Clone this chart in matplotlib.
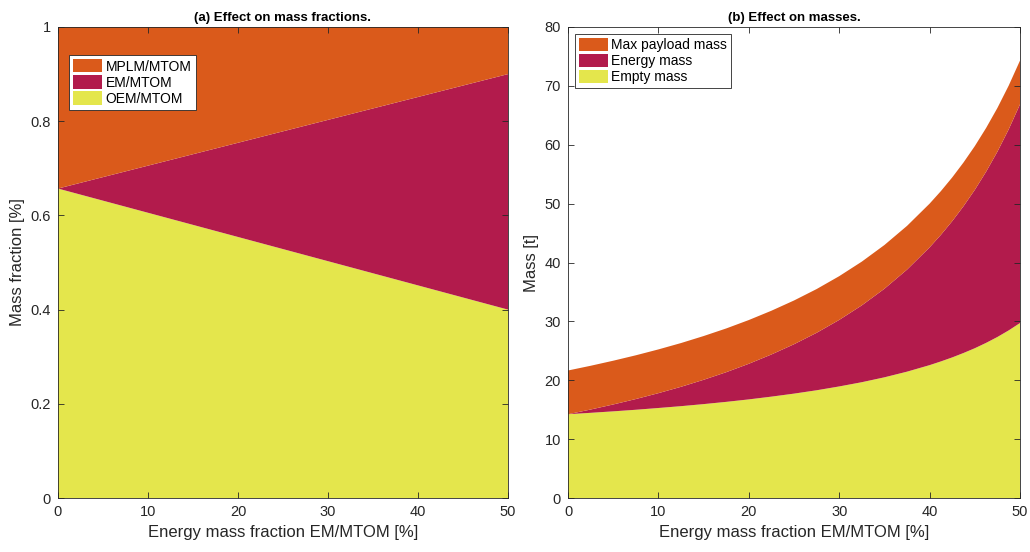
import matplotlib
matplotlib.use("Agg")
import matplotlib.pyplot as plt
from matplotlib.patches import Patch

plt.rcParams['font.family'] = ['Liberation Sans', 'DejaVu Sans']

# (a) mass fractions
em_frac_x = [0, 50]
oem_frac = [0.657, 0.40]
em_frac = [0.0, 0.50]
mplm_frac = [0.343, 0.10]

# (b) masses [t]
em_x = [0, 2.5, 5, 7.5, 10, 12.5, 15, 17.5, 20, 22.5, 25, 27.5, 30, 32.5, 35,
        37.5, 40, 41.25, 42.5, 43.75, 45, 46.25, 47.5, 48.75, 50]
empty_mass = [14.23, 14.47, 14.72, 14.99, 15.29, 15.60, 15.95, 16.33, 16.75, 17.22,
              17.73, 18.30, 18.95, 19.67, 20.50, 21.46, 22.57, 23.20, 23.88, 24.63,
              25.44, 26.35, 27.35, 28.47, 29.72]
energy_mass = [0.0, 0.56, 1.17, 1.82, 2.52, 3.29, 4.13, 5.04, 6.05, 7.16, 8.39, 9.76,
               11.30, 13.05, 15.04, 17.33, 20.00, 21.50, 23.14, 24.93, 26.90, 29.07,
               31.47, 34.15, 37.15]
payload_mass = [7.43] * 25

c_orange = '#DA5A1B'
c_crimson = '#B21B4C'
c_yellow = '#E4E64C'
colors = [c_yellow, c_crimson, c_orange]

fig = plt.figure(figsize=(10.3, 5.52), dpi=100)
ax1 = fig.add_axes([0.0563, 0.0978, 0.4369, 0.8533])
ax2 = fig.add_axes([0.5515, 0.0978, 0.4388, 0.8533])

ax1.stackplot(em_frac_x, oem_frac, em_frac, mplm_frac, colors=colors, linewidth=0)
ax2.stackplot(em_x, empty_mass, energy_mass, payload_mass, colors=colors, linewidth=0)

ax1.set_xlim(0, 50)
ax1.set_ylim(0, 1)
ax1.set_yticks([0, 0.2, 0.4, 0.6, 0.8, 1])
ax1.set_yticklabels(['0', '0.2', '0.4', '0.6', '0.8', '1'])
ax2.set_xlim(0, 50)
ax2.set_ylim(0, 80)
ax2.set_yticks(range(0, 81, 10))

for ax in (ax1, ax2):
    ax.set_xticks(range(0, 51, 10))
    ax.tick_params(direction='in', top=True, right=True, labelsize=10.5,
                   length=4, width=0.6, colors='#262626', pad=5)
    for s in ax.spines.values():
        s.set_linewidth(0.6)
        s.set_color('#262626')
    ax.set_xlabel('Energy mass fraction EM/MTOM [%]', fontsize=12, color='#262626')
    ax.set_axisbelow(False)

ax1.set_ylabel('Mass fraction [%]', fontsize=12, color='#262626')
ax2.set_ylabel('Mass [t]', fontsize=12, color='#262626')
ax1.set_title('(a) Effect on mass fractions.', fontsize=9.5, fontweight='bold', pad=4)
ax2.set_title('(b) Effect on masses.', fontsize=9.5, fontweight='bold', pad=4)

h1 = [Patch(facecolor=c_orange, label='MPLM/MTOM'),
      Patch(facecolor=c_crimson, label='EM/MTOM'),
      Patch(facecolor=c_yellow, label='OEM/MTOM')]
leg1 = ax1.legend(handles=h1, loc='upper left', bbox_to_anchor=(0.025, 0.94),
                  fontsize=10, fancybox=False, framealpha=1, edgecolor='#262626',
                  handlelength=2.1, handleheight=1.1, handletextpad=0.25,
                  labelspacing=0.12, borderpad=0.28, borderaxespad=0)
leg1.get_frame().set_linewidth(0.6)

h2 = [Patch(facecolor=c_orange, label='Max payload mass'),
      Patch(facecolor=c_crimson, label='Energy mass'),
      Patch(facecolor=c_yellow, label='Empty mass')]
leg2 = ax2.legend(handles=h2, loc='upper left', bbox_to_anchor=(0.015, 0.985),
                  fontsize=10, fancybox=False, framealpha=1, edgecolor='#262626',
                  handlelength=2.1, handleheight=1.1, handletextpad=0.25,
                  labelspacing=0.12, borderpad=0.28, borderaxespad=0)
leg2.get_frame().set_linewidth(0.6)

fig.savefig('out.png', dpi=100)
